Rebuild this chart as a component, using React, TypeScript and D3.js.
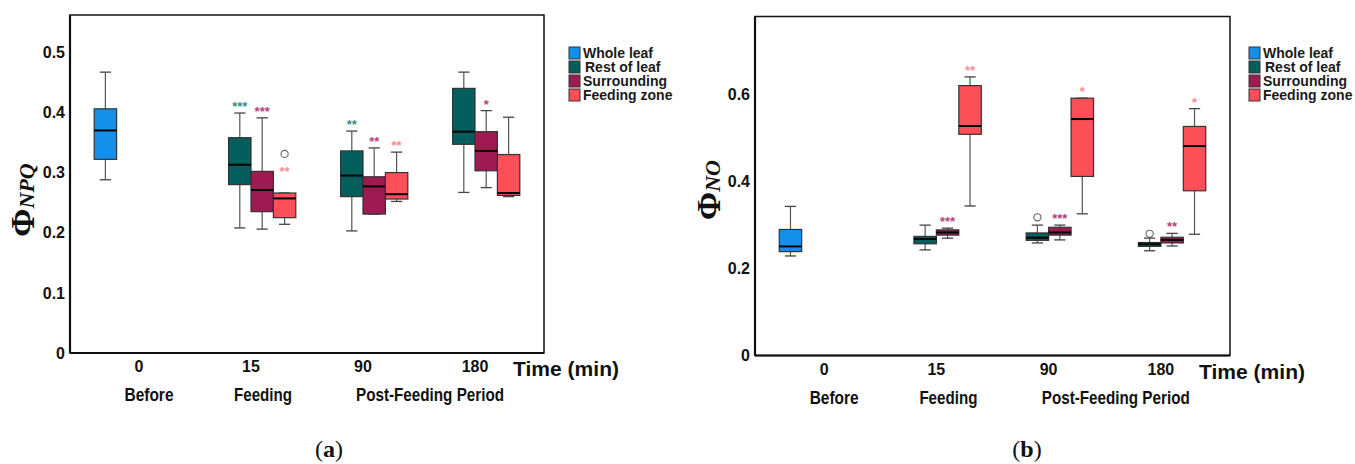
import React from "react";
import * as d3 from "d3";

// ---------- data ----------
const times = ["0", "15", "90", "180"];
const groups = ["Whole leaf", "Rest of leaf", "Surrounding", "Feeding zone"];
const groupColors = ["#1590e8", "#045e5b", "#9d1b51", "#fd4f58"];
const sigColors = ["#3f8fe0", "#3b8d8a", "#b5417c", "#ff8a92"];

// five-number summaries [low whisker, q1, median, q3, high whisker] per time (null = no box)
const npqWhole = [[0.288, 0.322, 0.370, 0.406, 0.467], null, null, null];
const npqRest = [null, [0.208, 0.280, 0.313, 0.358, 0.399], [0.203, 0.260, 0.295, 0.336, 0.369], [0.267, 0.347, 0.368, 0.440, 0.467]];
const npqSurr = [null, [0.206, 0.235, 0.271, 0.302, 0.391], [0.231, 0.231, 0.277, 0.293, 0.341], [0.275, 0.303, 0.336, 0.368, 0.403]];
const npqFeed = [null, [0.214, 0.225, 0.257, 0.266, 0.266], [0.252, 0.256, 0.264, 0.300, 0.334], [0.260, 0.262, 0.266, 0.330, 0.392]];
const npqOutliers = [{ time: "15", group: "Feeding zone", v: 0.331 }];
const npqSig = [
  { time: "15", group: "Rest of leaf", s: "***" },
  { time: "15", group: "Surrounding", s: "***" },
  { time: "15", group: "Feeding zone", s: "**" },
  { time: "90", group: "Rest of leaf", s: "**" },
  { time: "90", group: "Surrounding", s: "**" },
  { time: "90", group: "Feeding zone", s: "**" },
  { time: "180", group: "Surrounding", s: "*" },
];
const npqTicks = [0, 0.1, 0.2, 0.3, 0.4, 0.5];

const noWhole = [[0.229, 0.239, 0.251, 0.290, 0.343], null, null, null];
const noRest = [null, [0.243, 0.257, 0.268, 0.274, 0.300], [0.259, 0.265, 0.271, 0.282, 0.300], [0.241, 0.251, 0.256, 0.260, 0.270]];
const noSurr = [null, [0.270, 0.277, 0.283, 0.289, 0.293], [0.266, 0.277, 0.283, 0.295, 0.300], [0.252, 0.259, 0.266, 0.272, 0.281]];
const noFeed = [null, [0.344, 0.509, 0.528, 0.621, 0.641], [0.326, 0.412, 0.544, 0.592, 0.592], [0.279, 0.379, 0.482, 0.527, 0.568]];
const noOutliers = [
  { time: "90", group: "Rest of leaf", v: 0.318 },
  { time: "180", group: "Rest of leaf", v: 0.280 },
];
const noSig = [
  { time: "15", group: "Surrounding", s: "***" },
  { time: "15", group: "Feeding zone", s: "**" },
  { time: "90", group: "Surrounding", s: "***" },
  { time: "90", group: "Feeding zone", s: "*" },
  { time: "180", group: "Surrounding", s: "**" },
  { time: "180", group: "Feeding zone", s: "*" },
];
const noTicks = [0, 0.2, 0.4, 0.6];

const phaseLabels = ["Before", "Feeding", "Post-Feeding Period"];

type Box = number[] | null;

function Panel(props: {
  L: number; R: number; T: number; B: number; yMax: number; ticks: number[];
  series: Box[][]; outliers: { time: string; group: string; v: number }[];
  sig: { time: string; group: string; s: string }[];
  sub: string; ylabX: number; ylabY: number; legX: number; letter: string; letterX: number;
}) {
  const { L, R, T, B, yMax, ticks, series, outliers, sig, sub, ylabX, ylabY, legX, letter, letterX } = props;
  const x0 = d3.scaleBand<string>().domain(times).range([L, R]).paddingInner(0.2).paddingOuter(0.216);
  const x1 = d3.scaleBand<string>().domain(groups).range([0, x0.bandwidth()]);
  const y = d3.scaleLinear().domain([0, yMax]).range([B, T]);
  const bw = x1.bandwidth();
  const cx = (t: string, g: string) => (x0(t) as number) + (x1(g) as number) + bw / 2;
  const fmt = (v: number) => (v === 0 ? "0" : d3.format(".1f")(v));
  const tickBase = B + 19;
  const phaseBase = B + 48;
  const sans = "Liberation Sans, Arial, sans-serif";

  return (
    <g>
      {/* frame */}
      <rect x={L} y={T} width={R - L} height={B - T} fill="none" stroke="#111" strokeWidth={1.5} />
      <line x1={L} x2={L} y1={T} y2={B} stroke="#111" strokeWidth={2.2} />
      <line x1={L} x2={R} y1={B} y2={B} stroke="#111" strokeWidth={2.2} />
      {/* y ticks */}
      {ticks.map((t) => (
        <text key={t} x={L - 5} y={y(t)} dy="0.36em" textAnchor="end" fontFamily={sans} fontWeight="bold" fontSize={16} fill="#111">
          {fmt(t)}
        </text>
      ))}
      {/* y label */}
      <text transform={`translate(${ylabX},${ylabY}) rotate(-90)`} textAnchor="middle" fill="#111" fontFamily="Liberation Serif, Times New Roman, serif" fontWeight="bold">
        <tspan fontSize={34}>Φ</tspan>
        <tspan fontSize={22} fontStyle="italic">{sub}</tspan>
      </text>
      {/* x tick labels */}
      {times.map((t) => (
        <text key={t} x={(x0(t) as number) + x0.bandwidth() / 2} y={tickBase} textAnchor="middle" fontFamily={sans} fontWeight="bold" fontSize={16} fill="#111">
          {t}
        </text>
      ))}
      <text x={(x0("0") as number) + x0.bandwidth() / 2 + 10} y={phaseBase} textAnchor="middle" fontFamily={sans} fontWeight="bold" fontSize={19} textLength={49} lengthAdjust="spacingAndGlyphs" fill="#111">{phaseLabels[0]}</text>
      <text x={(x0("15") as number) + x0.bandwidth() / 2 + 12} y={phaseBase} textAnchor="middle" fontFamily={sans} fontWeight="bold" fontSize={19} textLength={58} lengthAdjust="spacingAndGlyphs" fill="#111">{phaseLabels[1]}</text>
      <text x={((x0("90") as number) + (x0("180") as number)) / 2 + x0.bandwidth() / 2 + 11} y={phaseBase} textAnchor="middle" fontFamily={sans} fontWeight="bold" fontSize={19} textLength={148} lengthAdjust="spacingAndGlyphs" fill="#111">{phaseLabels[2]}</text>
      <text x={R - 31} y={B + 23} fontFamily={sans} fontWeight="bold" fontSize={20} textLength={106} lengthAdjust="spacingAndGlyphs" fill="#111">Time (min)</text>
      {/* boxes */}
      {series.map((ser, gi) =>
        ser.map((b, ti) => {
          if (!b) return null;
          const t = times[ti];
          const g = groups[gi];
          const c = cx(t, g);
          const [lo, q1, med, q3, hi] = b;
          const cap = bw / 4;
          return (
            <g key={g + t}>
              <line x1={c} x2={c} y1={y(hi)} y2={y(q3)} stroke="#555" strokeWidth={1.2} />
              <line x1={c} x2={c} y1={y(q1)} y2={y(lo)} stroke="#555" strokeWidth={1.2} />
              <line x1={c - cap} x2={c + cap} y1={y(hi)} y2={y(hi)} stroke="#444" strokeWidth={1.3} />
              <line x1={c - cap} x2={c + cap} y1={y(lo)} y2={y(lo)} stroke="#444" strokeWidth={1.3} />
              <rect x={c - bw / 2} y={y(q3)} width={bw} height={Math.max(0.5, y(q1) - y(q3))} fill={groupColors[gi]} stroke="#333" strokeWidth={1.2} />
              <line x1={c - bw / 2} x2={c + bw / 2} y1={y(med)} y2={y(med)} stroke="#000" strokeWidth={2} />
            </g>
          );
        })
      )}
      {outliers.map((o, i) => (
        <circle key={i} cx={cx(o.time, o.group)} cy={y(o.v)} r={3.6} fill="#fff" stroke="#666" strokeWidth={1.1} />
      ))}
      {sig.map((s, i) => {
        const gi = groups.indexOf(s.group);
        const b = series[gi][times.indexOf(s.time)] as number[];
        const top = Math.min(y(b[4]), ...outliers.filter((o) => o.time === s.time && o.group === s.group).map((o) => y(o.v) + 24));
        return (
          <text key={i} x={cx(s.time, s.group)} y={top - 10 + 8} textAnchor="middle" fontFamily={sans} fontWeight="bold" fontSize={13} fill={sigColors[gi]}>
            {s.s}
          </text>
        );
      })}
      {/* legend */}
      {groups.map((g, i) => (
        <g key={g}>
          <rect x={legX} y={47 + i * 14} width={11} height={12} fill={groupColors[i]} stroke="#333" strokeWidth={1} />
          <text x={legX + 14 + (i === 1 ? 2 : 0)} y={53 + i * 14} dy="0.36em" fontFamily={sans} fontWeight="bold" fontSize={14} fill="#1a1a1a">
            {g}
          </text>
        </g>
      ))}
      {/* panel letter */}
      <text x={letterX} y={457} textAnchor="middle" fontFamily="Liberation Serif, Times New Roman, serif" fontSize={24} fill="#111">
        (<tspan fontWeight="bold">{letter}</tspan>)
      </text>
    </g>
  );
}

export default function App() {
  return (
    <svg width={1355} height={464} style={{ position: "absolute", left: 0, top: 0, background: "#fff" }}>
      <rect width={1355} height={464} fill="#fff" />
      <Panel L={70} R={544} T={15} B={353} yMax={0.562} ticks={npqTicks}
        series={[npqWhole, npqRest, npqSurr, npqFeed]} outliers={npqOutliers} sig={npqSig}
        sub="NPQ" ylabX={34} ylabY={200} legX={569} letter="a" letterX={329} />
      <Panel L={755} R={1230} T={16.5} B={355.5} yMax={0.78} ticks={noTicks}
        series={[noWhole, noRest, noSurr, noFeed]} outliers={noOutliers} sig={noSig}
        sub="NO" ylabX={720} ylabY={190} legX={1249} letter="b" letterX={1027} />
    </svg>
  );
}
